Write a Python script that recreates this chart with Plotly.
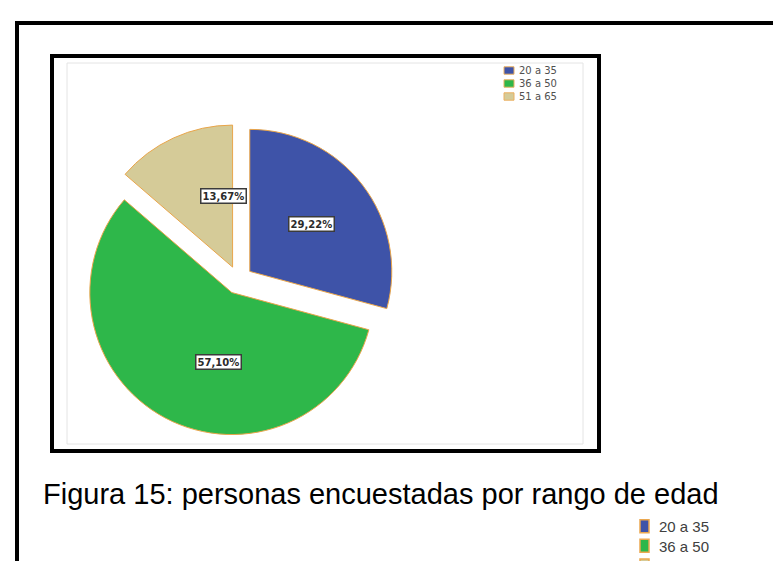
import math
import plotly.graph_objects as go

# ---- data ----
categories = ["20 a 35", "36 a 50", "51 a 65"]
percentages = [29.22, 57.10, 13.67]
slice_colors = ["#3E53A8", "#2EB74A", "#D5CB98"]
caption_text = "Figura 15: personas encuestadas por rango de edad"

W, H = 781, 561


def px(x):
    return x / W


def py(y):
    return 1 - y / H


PULL = 0.1
pie_cx, pie_cy, pie_r = 230.5, 272.0, 142.0
half = pie_r * (1 + PULL)
domain_x = [px(pie_cx - half), px(pie_cx + half)]
domain_y = [py(pie_cy + half), py(pie_cy - half)]

fig = go.Figure(
    go.Pie(
        labels=categories,
        values=percentages,
        sort=False,
        direction="clockwise",
        rotation=0,
        pull=[PULL] * len(categories),
        marker=dict(colors=slice_colors, line=dict(color="#E9A54A", width=1)),
        textinfo="none",
        hoverinfo="label+percent",
        showlegend=False,
        domain=dict(x=domain_x, y=domain_y),
    )
)

shapes = []
annotations = []

# outer page border (partial)
shapes.append(dict(type="line", xref="paper", yref="paper", x0=px(7), x1=px(781), y0=py(15), y1=py(15),
                   line=dict(color="black", width=4)))
shapes.append(dict(type="line", xref="paper", yref="paper", x0=px(9), x1=px(9), y0=py(13), y1=py(561),
                   line=dict(color="black", width=4)))
# inner chart box
shapes.append(dict(type="rect", xref="paper", yref="paper", x0=px(44), x1=px(591), y0=py(48), y1=py(443),
                   line=dict(color="black", width=4)))
# light plot-area frame
shapes.append(dict(type="rect", xref="paper", yref="paper", x0=px(59), x1=px(575), y0=py(55), y1=py(436),
                   line=dict(color="#E4E4E4", width=1)))

# percentage labels, computed from the slice geometry
total = sum(percentages)
cum = 0.0
k = 0.55
for v in percentages:
    theta = 2 * math.pi * (cum + v / 2) / total
    cum += v
    d = (PULL + k) * pie_r
    lx = pie_cx + d * math.sin(theta)
    ly = pie_cy - d * math.cos(theta)
    annotations.append(dict(
        x=px(lx), y=py(ly), xref="paper", yref="paper", showarrow=False,
        text="<b>" + f"{v:.2f}".replace(".", ",") + "%</b>",
        font=dict(family="DejaVu Sans", size=10, color="#2b2b2b"),
        bgcolor="white", bordercolor="#3b3b3b", borderwidth=1.5, borderpad=1,
    ))

# top legend inside the chart box (one multi-line text block)
LEG_FS = 10
LEG_STEP = LEG_FS * 1.3
leg_mid = 75.5
for i, cat in enumerate(categories):
    cy = leg_mid + (i - 1) * LEG_STEP
    shapes.append(dict(type="rect", xref="paper", yref="paper",
                       x0=px(496), x1=px(506), y0=py(cy - 3.7), y1=py(cy + 3.7),
                       fillcolor=slice_colors[i], line=dict(color="#EBB060", width=1)))
annotations.append(dict(
    x=px(509), y=py(leg_mid), xref="paper", yref="paper", showarrow=False,
    xanchor="left", yanchor="middle", align="left", text="<br>".join(categories),
    font=dict(family="DejaVu Sans", size=LEG_FS, color="#505050"),
))

# caption
annotations.append(dict(
    x=px(33), y=py(485.5), xref="paper", yref="paper", showarrow=False,
    xanchor="left", yanchor="middle", text=caption_text,
    font=dict(family="Liberation Sans, Arial", size=29, color="black"),
))

# second (cut) legend below the caption
BL_FS = 15
BL_STEP = BL_FS * 1.3
bl_mid = 528.0
for i, cat in enumerate(categories[:2]):
    cy = bl_mid + (i - 0.5) * BL_STEP
    shapes.append(dict(type="rect", xref="paper", yref="paper",
                       x0=px(632), x1=px(641), y0=py(cy - 6.5), y1=py(cy + 6.5),
                       fillcolor=slice_colors[i], line=dict(color="#EBA850", width=1.5)))
annotations.append(dict(
    x=px(649), y=py(bl_mid), xref="paper", yref="paper", showarrow=False,
    xanchor="left", yanchor="middle", align="left", text="<br>".join(categories[:2]),
    font=dict(family="Liberation Sans, Arial", size=BL_FS, color="#404040"),
))
shapes.append(dict(type="rect", xref="paper", yref="paper",
                   x0=px(632), x1=px(641), y0=py(551), y1=py(555),
                   fillcolor=slice_colors[2], line=dict(color="#EBA850", width=1.5)))

fig.update_layout(
    width=W, height=H,
    margin=dict(l=0, r=0, t=0, b=0),
    paper_bgcolor="white", plot_bgcolor="white",
    shapes=shapes, annotations=annotations,
)

fig.write_html("out.html")
